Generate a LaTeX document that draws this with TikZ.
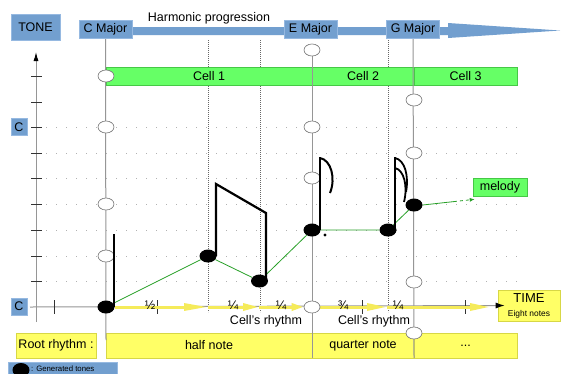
\documentclass[tikz,border=0pt]{standalone}
\usepackage{fontspec}
\setmainfont{Liberation Sans}
\usetikzlibrary{shapes.geometric,arrows.meta,calc}
\pgfdeclarelayer{back}
\pgfdeclarelayer{mid}
\pgfsetlayers{back,mid,main}
\definecolor{bfill}{RGB}{114,159,207}
\definecolor{bdraw}{RGB}{150,185,225}
\definecolor{gfill}{RGB}{102,255,102}
\definecolor{gdraw}{RGB}{70,200,70}
\definecolor{yfill}{RGB}{255,255,102}
\definecolor{ydraw}{RGB}{215,215,70}
\definecolor{yarrow}{RGB}{245,235,90}
\definecolor{mgreen}{RGB}{40,160,40}
\definecolor{chord}{RGB}{150,150,150}
\begin{document}
\begin{tikzpicture}[x=1pt,y=-1pt,
  every node/.style={font=\fontsize{12.5}{14}\selectfont, inner sep=0pt},
  bluebox/.style={draw=bdraw, fill=bfill, line width=0.6pt, minimum height=18pt},
  cellbox/.style={draw=gdraw, fill=gfill, line width=0.6pt, minimum height=18pt},
  ybox/.style={draw=ydraw, fill=yfill, line width=0.6pt, minimum height=25pt},
  opencirc/.style={ellipse, draw=gray!90!black, fill=white, line width=0.6pt, minimum width=16pt, minimum height=12pt},
  notehead/.style={ellipse, fill=black, minimum width=17pt, minimum height=13pt},
  gridline/.style={gray!60, line width=0.6pt, dash pattern=on 0.7pt off 9.3pt},
  vdots/.style={gray!80!black, line width=0.5pt, dash pattern=on 0.8pt off 1.2pt},
  chordline/.style={chord, line width=1pt},
  stemline/.style={line width=2.2pt, black},
  rhythm/.style={yarrow, line width=3pt, -{Triangle[length=#1,width=7pt]}},
  fraclabel/.style={font=\fontsize{12.5}{14}\selectfont},
  tickmark/.style={gray!40!black, line width=0.7pt},
]
\useasboundingbox (0,0) rectangle (561,373);

% ---------- back layer: grid, bars, harmonic arrow
\begin{pgfonlayer}{back}
\fill[white] (0,0) rectangle (561,373);
\fill[bfill] (106,27) -- (448,27) -- (448,23) -- (560,30.5) -- (448,38) -- (448,35) -- (106,35) -- cycle;
\foreach \yy in {127,153,178,204,230,256,281}
  \draw[gridline] (46,\yy) -- (517,\yy);
\foreach \xx in {208,260,388}
  \draw[vdots] (\xx,40) -- (\xx,312);
\node[cellbox, minimum width=206pt] (cell1) at (209,76) {Cell 1};
\node[cellbox, minimum width=102pt] (cell2) at (363,76) {Cell 2};
\node[cellbox, minimum width=103pt] (cell3) at (465.5,76) {Cell 3};
\node[ybox, minimum width=206pt] (half) at (209,345.5) {half note};
\node[ybox, minimum width=102pt] (quarter) at (363,345.5) {quarter note};
\node[ybox, minimum width=103pt] (dots) at (465.5,345.5) {...};
\node[ybox, minimum width=80pt] (root) at (56,345.5) {Root rhythm :};
\end{pgfonlayer}

% ---------- labels
\node[bluebox, minimum width=49pt, minimum height=26pt] (tone) at (35.5,27) {TONE};
\node[bluebox, minimum width=53pt] (cmaj) at (105.5,29) {C Major};
\node[bluebox, minimum width=53pt] (emaj) at (310.5,29) {E Major};
\node[bluebox, minimum width=53pt] (gmaj) at (413,29) {G Major};
\node (harm) at (209,18) {Harmonic progression};
\node[bluebox, minimum width=16pt, minimum height=17pt] (cup) at (19,127) {C};
\node[bluebox, minimum width=16pt, minimum height=17pt] (clow) at (19,306.5) {C};
\node[draw=gdraw, fill=gfill, line width=0.6pt, minimum width=54pt, minimum height=18pt] (melody) at (500,187) {melody};
\node[ybox, minimum width=62pt, minimum height=31pt, align=center] (time) at (529,305.5)
  {\fontsize{13}{12}\selectfont TIME\\\fontsize{8.4}{9}\selectfont Eight notes};

% ---------- open circles
\node[opencirc] (oc1) at (106,76) {};
\node[opencirc] (oc2) at (106,127) {};
\node[opencirc] (oc3) at (106,204) {};
\node[opencirc] (oc4) at (106,256) {};
\node[opencirc] (oe1) at (312,50) {};
\node[opencirc] (oe2) at (312,127) {};
\node[opencirc] (oe3) at (312,178) {};
\node[opencirc] (oe4) at (312,307) {};
\node[opencirc] (og1) at (414,100) {};
\node[opencirc] (og2) at (414,153) {};
\node[opencirc] (og3) at (414,282) {};
\node[opencirc] (og4) at (414,333) {};

% ---------- note heads
\node[notehead] (n1) at (106,307) {};
\node[notehead] (n2) at (208,256) {};
\node[notehead] (n3) at (259.5,281) {};
\node[notehead] (n4) at (312,230) {};
\node[notehead] (n5) at (388,230) {};
\node[notehead] (n6) at (414,205) {};

% ---------- time points
\coordinate (t1) at (208,307);
\coordinate (t2) at (259,307);
\coordinate (t4) at (387,307);
\coordinate (t5) at (490,307);

% ---------- fraction labels
\node[fraclabel] (f1) at (150,305) {½};
\node[fraclabel] (f2) at (233,305) {¼};
\node[fraclabel] (f3) at (281,305) {¼};
\node[fraclabel] (f4) at (343,305) {¾};
\node[fraclabel] (f5) at (398,305) {¼};
\node (cr1) at (266,321) {Cell's rhythm};
\node (cr2) at (374,321) {Cell's rhythm};

% ---------- legend
\node[fill=bfill, draw=bdraw, line width=0.5pt, minimum width=109pt, minimum height=14pt, anchor=north west] (legend) at (8,362) {};
\node[ellipse, fill=black, minimum width=17pt, minimum height=14pt] (lghead) at (21,370) {};
\node[anchor=west, font=\fontsize{7.8}{9}\selectfont] (lgtext) at (31,368.5) {: Generated tones};

% ---------- mid layer: lines
\begin{pgfonlayer}{mid}
\draw[chordline] (cmaj.south) -- (106,340);
\draw[chordline] (oe1) -- (312,358);
\draw[chordline] (gmaj.south) -- (414,358);
% axes
\draw[chord, line width=1pt, -{Latex[black,length=9pt,width=5pt]}] (36,322) -- (36,52);
\foreach \yy in {76,102,127,153,178,204,230,256,281}
  \draw[tickmark] (31,\yy) -- (42,\yy);
\draw[chord, line width=1pt] (30,307) -- (time.west);
\draw[tickmark] (54,300) -- (54,314);
\foreach \xx in {157,362,465}
  \draw[tickmark] (\xx,300) -- (\xx,314);
% rhythm arrows
\draw[rhythm=24pt] (n1.east) -- (t1);
\draw[rhythm=16pt] (t1) -- (t2);
\draw[rhythm=12pt] (t2) -- (oe4.west);
\draw[rhythm=20pt] (oe4.east) -- (t4);
\draw[rhythm=20pt] (t4) -- (t5);
% melody line
\draw[mgreen, line width=0.8pt] (n1) -- (n2) -- (n3) -- (n4) -- (n5) -- (n6);
\coordinate (mm) at ($(n6.east)!0.6!([shift={(2,3)}]melody.south west)$);
\draw[mgreen, line width=0.8pt] (n6.east) -- (mm);
\draw[mgreen, line width=0.8pt, dash pattern=on 3pt off 3pt, -{Latex[length=5pt,width=4pt]}] (mm) -- ([shift={(2,3)}]melody.south west);
\end{pgfonlayer}
\draw[-{Latex[black,length=9pt,width=6pt]}, chord, line width=1pt] ([xshift=-2pt]time.west) -- ([xshift=7pt]time.west);

% ---------- stems, beams, flags
\draw[stemline] (114,307) -- (114,234);
\draw[stemline, line join=miter] (216,256) -- (216,184) -- (266,213) -- (266,281);
\draw[stemline] (320,230) -- (320,157);
\draw[line width=2pt] (320,158) .. controls (331,160) and (336,178) .. (330,193);
\fill (325,235) circle (1.6pt);
\draw[stemline] (395,228) -- (395,157);
\draw[line width=1.8pt] (395,158) .. controls (405,160) and (409,176) .. (406,192);
\draw[line width=1.8pt] (395,168) .. controls (404,170) and (408,186) .. (404,202);
\end{tikzpicture}
\end{document}
